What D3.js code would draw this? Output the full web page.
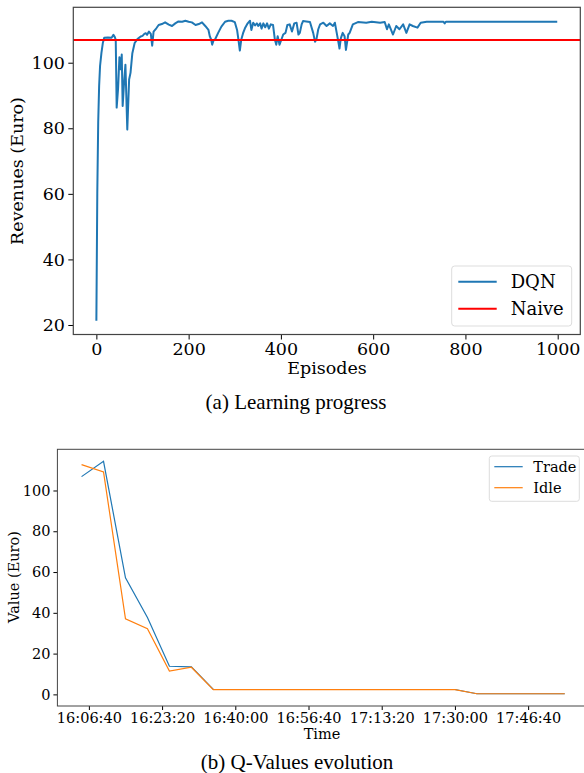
<!DOCTYPE html>
<html>
<head>
<meta charset="utf-8">
<script src="https://cdn.jsdelivr.net/npm/d3@7"></script>
<style>
  body { margin: 0; background: #fff; }
  svg { display: block; }
  .tick text { font-family: "DejaVu Serif", serif; fill: #000; }
  .caption { font-family: "Liberation Serif", "Times New Roman", serif; }
</style>
</head>
<body>
<svg id="screen" width="584" height="773"></svg>
<script>
// (a) learning progress: DQN revenue per episode
var episodes = [0,2,4,6,8,11,14,17,25,33,37,40,42,44,47,50,53,55,57,60,63,67,71,74,78,83,89,96,100,104,107,110,114,118,121,124,130,135,142,149,157,164,171,178,186,193,200,207,215,222,229,236,243,246,249,251,254,257,264,271,279,286,293,300,305,308,311,314,318,322,328,333,336,340,344,348,351,355,358,362,366,370,374,378,383,387,390,393,397,401,405,410,414,419,424,429,434,438,441,445,448,455,463,470,474,477,481,485,492,499,506,513,517,521,525,527,530,534,538,541,546,549,556,567,585,597,615,625,630,634,643,650,657,665,672,679,686,696,703,716,752,755,758,999];
var revenues = [21.3,60,82,93,99,103,106,107.6,107.7,107.6,108.5,107.8,107,86.3,92,101.7,98,102.5,86.8,93.8,99.4,79.6,94.9,96.9,102.9,106,107.2,108,108.2,108.8,109,108.5,109.5,108.8,105.2,109.5,110.5,111.5,111.8,112.3,111.6,111.2,112,112.6,112.5,112.8,112.5,112.3,111.5,111.8,112.3,111.2,110,108,107,105.5,106.8,107,109.1,111,112.5,112.8,112.8,112.4,110,107,103.7,107,109,110.5,112,112.8,110,112.2,111.4,112,111.2,112,110.4,112,110.8,112,110.4,111.7,111.5,107,105.5,108.1,105.5,107,108.6,109.1,111.5,111.7,109.5,112,112.2,108.6,109.1,111.7,112.7,112.6,112.4,109.1,106.4,107.1,110.2,111.7,112.2,111.2,112,111.2,112.2,109.1,106,104.3,107.5,109.1,108.1,103.9,108.6,109.1,111.7,112.4,112.2,112.5,112.2,112.4,110.2,111.7,108.6,111.2,110.2,111.7,109.1,111.7,111.2,110.7,112.2,112.5,112.5,112,112.5,112.5];
var naiveRevenue = 106.9;
var episodeTicks = [0,200,400,600,800,1000];
var revenueTicks = [20,40,60,80,100];

// (b) Q-values evolution
var qTimes = ["16:05:00","16:10:00","16:15:00","16:20:00","16:25:00","16:30:00","16:35:00","16:40:00","16:45:00","16:50:00","16:55:00","17:00:00","17:05:00","17:10:00","17:15:00","17:20:00","17:25:00","17:30:00","17:35:00","17:40:00","17:45:00","17:50:00","17:55:00"];
var tradeQ = [106.8,114.3,57.2,37.7,13.8,13.5,2.4,2.4,2.4,2.4,2.4,2.4,2.4,2.4,2.4,2.4,2.4,2.4,0.3,0.3,0.3,0.3,0.3];
var idleQ  = [112.7,109.1,37.1,32.2,11.4,13.3,2.3,2.3,2.3,2.3,2.3,2.3,2.3,2.3,2.3,2.3,2.3,2.3,0.3,0.3,0.3,0.3,0.3];
var timeTicks = ["16:06:40","16:23:20","16:40:00","16:56:40","17:13:20","17:30:00","17:46:40"];
var valueTicks = [0,20,40,60,80,100];

var svg = d3.select("#screen");

function toSec(s) {
    var p = s.split(":").map(Number);
    return p[0]*3600 + p[1]*60 + p[2];
}
function fmtSec(t) {
    var h = Math.floor(t/3600), m = Math.floor((t%3600)/60), s = t%60;
    return h + ":" + String(m).padStart(2,"0") + ":" + String(s).padStart(2,"0");
}

//---------- chart (a)
var x1 = d3.scaleLinear().domain([-50, 1049]).range([73.3, 580.3]);
var y1 = d3.scaleLinear().domain([17.1, 116.9]).range([334.5, 7.3]);
var g1 = svg.append("g");

g1.append("g").attr("transform", "translate(0,334.5)")
    .call(d3.axisBottom(x1).tickValues(episodeTicks).tickFormat(d3.format("d")).tickSize(5).tickPadding(3.3))
    .call(function(g){ g.select(".domain").remove(); })
    .selectAll("text").style("font-size", "17.5px");
g1.append("g").attr("transform", "translate(73.3,0)")
    .call(d3.axisLeft(y1).tickValues(revenueTicks).tickSize(5).tickPadding(3.3))
    .call(function(g){ g.select(".domain").remove(); })
    .selectAll("text").style("font-size", "17.5px");

var dqn = episodes.map(function(e, i){ return [e, revenues[i]]; });
g1.append("path").datum(dqn)
    .attr("fill", "none").attr("stroke", "#1f77b4").attr("stroke-width", 2)
    .attr("stroke-linejoin", "round")
    .attr("d", d3.line().x(function(d){ return x1(d[0]); }).y(function(d){ return y1(d[1]); }));

g1.append("line")
    .attr("x1", x1.range()[0]).attr("x2", x1.range()[1])
    .attr("y1", y1(naiveRevenue)).attr("y2", y1(naiveRevenue))
    .attr("stroke", "#ff0000").attr("stroke-width", 2);

g1.append("rect").attr("x", 73.3).attr("y", 7.3).attr("width", 507).attr("height", 327.2)
    .attr("fill", "none").attr("stroke", "#444").attr("stroke-width", 1.2);

g1.append("text").attr("transform", "translate(23,171) rotate(-90)")
    .attr("text-anchor", "middle").style("font-family", "DejaVu Serif").style("font-size", "17.5px")
    .text("Revenues (Euro)");
g1.append("text").attr("x", 327).attr("y", 374)
    .attr("text-anchor", "middle").style("font-family", "DejaVu Serif").style("font-size", "17.5px")
    .text("Episodes");

// legend (a)
var leg1 = g1.append("g");
leg1.append("rect").attr("x", 451.7).attr("y", 266).attr("width", 120).attr("height", 60).attr("rx", 3)
    .attr("fill", "#fff").attr("fill-opacity", 0.8).attr("stroke", "#ddd");
[["DQN", "#1f77b4", 281.7], ["Naive", "#ff0000", 308.7]].forEach(function(d){
    leg1.append("line").attr("x1", 458.3).attr("x2", 496.7).attr("y1", d[2]).attr("y2", d[2])
        .attr("stroke", d[1]).attr("stroke-width", 2);
    leg1.append("text").attr("x", 510.7).attr("y", d[2] + 6.5)
        .style("font-family", "DejaVu Serif").style("font-size", "18px").text(d[0]);
});

svg.append("text").attr("class", "caption").attr("x", 296).attr("y", 409)
    .attr("text-anchor", "middle").style("font-size", "21px").text("(a) Learning progress");

//---------- chart (b)
var x2 = d3.scaleLinear().domain([57570, 64830]).range([57.4, 588.9]);
var y2 = d3.scaleLinear().domain([-5.7, 120.2]).range([706, 449.3]);
var g2 = svg.append("g");

g2.append("g").attr("transform", "translate(0,706)")
    .call(d3.axisBottom(x2).tickValues(timeTicks.map(toSec)).tickFormat(fmtSec).tickSize(4).tickPadding(3))
    .call(function(g){ g.select(".domain").remove(); })
    .selectAll("text").style("font-size", "14.5px");
g2.append("g").attr("transform", "translate(57.4,0)")
    .call(d3.axisLeft(y2).tickValues(valueTicks).tickSize(4).tickPadding(3))
    .call(function(g){ g.select(".domain").remove(); })
    .selectAll("text").style("font-size", "14.5px");

var qLine = d3.line().x(function(d){ return x2(d[0]); }).y(function(d){ return y2(d[1]); });
g2.append("path").datum(qTimes.map(function(t, i){ return [toSec(t), tradeQ[i]]; }))
    .attr("fill", "none").attr("stroke", "#1f77b4").attr("stroke-width", 1.2).attr("d", qLine);
g2.append("path").datum(qTimes.map(function(t, i){ return [toSec(t), idleQ[i]]; }))
    .attr("fill", "none").attr("stroke", "#ff7f0e").attr("stroke-width", 1.2).attr("d", qLine);

g2.append("rect").attr("x", 57.4).attr("y", 449.3).attr("width", 531.5).attr("height", 256.7)
    .attr("fill", "none").attr("stroke", "#444").attr("stroke-width", 1);

g2.append("text").attr("transform", "translate(19,577) rotate(-90)")
    .attr("text-anchor", "middle").style("font-family", "DejaVu Serif").style("font-size", "14.5px")
    .text("Value (Euro)");
g2.append("text").attr("x", 322).attr("y", 739)
    .attr("text-anchor", "middle").style("font-family", "DejaVu Serif").style("font-size", "14.5px")
    .text("Time");

// legend (b)
var leg2 = g2.append("g");
leg2.append("rect").attr("x", 489.3).attr("y", 456).attr("width", 90).attr("height", 45.3).attr("rx", 2.5)
    .attr("fill", "#fff").attr("fill-opacity", 0.8).attr("stroke", "#ddd");
[["Trade", "#1f77b4", 466.7], ["Idle", "#ff7f0e", 487.7]].forEach(function(d){
    leg2.append("line").attr("x1", 494.3).attr("x2", 522.7).attr("y1", d[2]).attr("y2", d[2])
        .attr("stroke", d[1]).attr("stroke-width", 1.2);
    leg2.append("text").attr("x", 533.3).attr("y", d[2] + 5.2)
        .style("font-family", "DejaVu Serif").style("font-size", "14.5px").text(d[0]);
});

svg.append("text").attr("class", "caption").attr("x", 297).attr("y", 769)
    .attr("text-anchor", "middle").style("font-size", "21px").text("(b) Q-Values evolution");
</script>
</body>
</html>
